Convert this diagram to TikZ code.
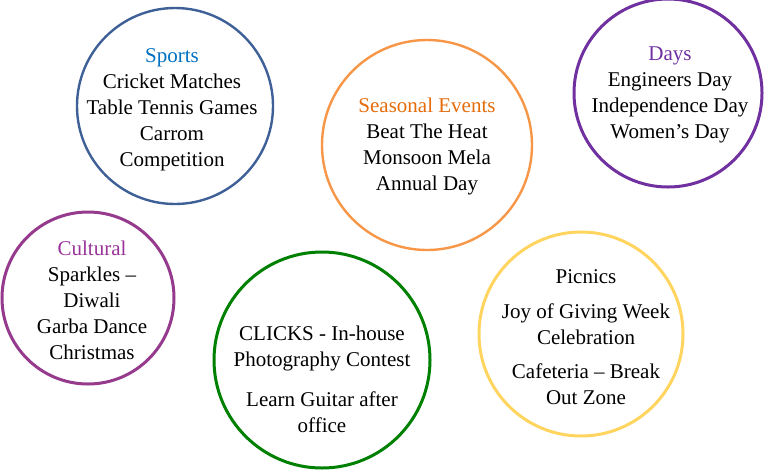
\documentclass[tikz,border=0pt]{standalone}
\usepackage{fontspec}
\setmainfont{Liberation Serif}
\usepackage{xcolor}
\usepackage{tikz}
\definecolor{sportsring}{HTML}{3E6097}
\definecolor{sportstitle}{HTML}{0070C0}
\definecolor{seasonring}{HTML}{F79646}
\definecolor{seasontitle}{HTML}{E46C0A}
\definecolor{daysring}{HTML}{7030A0}
\definecolor{cultring}{HTML}{953A8C}
\definecolor{cultitle}{HTML}{993399}
\definecolor{clicksring}{HTML}{008000}
\definecolor{picnicring}{HTML}{FFD45F}
\tikzset{
  ring/.style ={circle, line width=3pt, inner sep=0pt, fill=none},
  thinring/.style={ring, line width=2.4pt},
  txt/.style  ={align=center, font=\fontsize{21}{26}\selectfont,
                text=black, inner sep=0pt}
}

\begin{document}
\begin{tikzpicture}[x=1pt, y=-1pt]
\useasboundingbox (0,0) rectangle (767,472);
% circles
\node[thinring, draw=sportsring,  minimum size=196pt] (sports) at (175,106) {};
\node[thinring, draw=seasonring,  minimum size=210pt] (season) at (427,145) {};
\node[ring,     draw=daysring,    minimum size=188pt] (days)   at (668,93)  {};
\node[ring,     draw=cultring,    minimum size=172pt] (cult)   at (88,298)  {};
\node[ring,     draw=clicksring,  minimum size=216pt] (clicks) at (322,360) {};
\node[ring,     draw=picnicring,  minimum size=204pt] (picnic) at (581,334) {};
% texts
\node[txt] (sports-txt) at (172,110)
  {\textcolor{sportstitle}{Sports}\\ Cricket Matches\\ Table Tennis Games\\ Carrom\\ Competition};
\node[txt] (season-txt) at (427,146)
  {\textcolor{seasontitle}{Seasonal Events}\\ Beat The Heat\\ Monsoon Mela\\ Annual Day};
\node[txt] (days-txt) at (670,94.5)
  {\textcolor{daysring}{Days}\\ Engineers Day\\ Independence Day\\ Women’s Day};
\node[txt] (cult-txt) at (92,300)
  {\textcolor{cultitle}{Cultural}\\ Sparkles –\\ Diwali\\ Garba Dance\\ Christmas};
\node[txt] (clicks-txt) at (322,379)
  {CLICKS - In-house\\ Photography Contest\\[14pt] Learn Guitar after\\ office};
\node[txt] (picnic-txt) at (586,337.5)
  {Picnics\\[9pt] Joy of Giving Week\\ Celebration\\[8pt] Cafeteria – Break\\ Out Zone};
\end{tikzpicture}
\end{document}
